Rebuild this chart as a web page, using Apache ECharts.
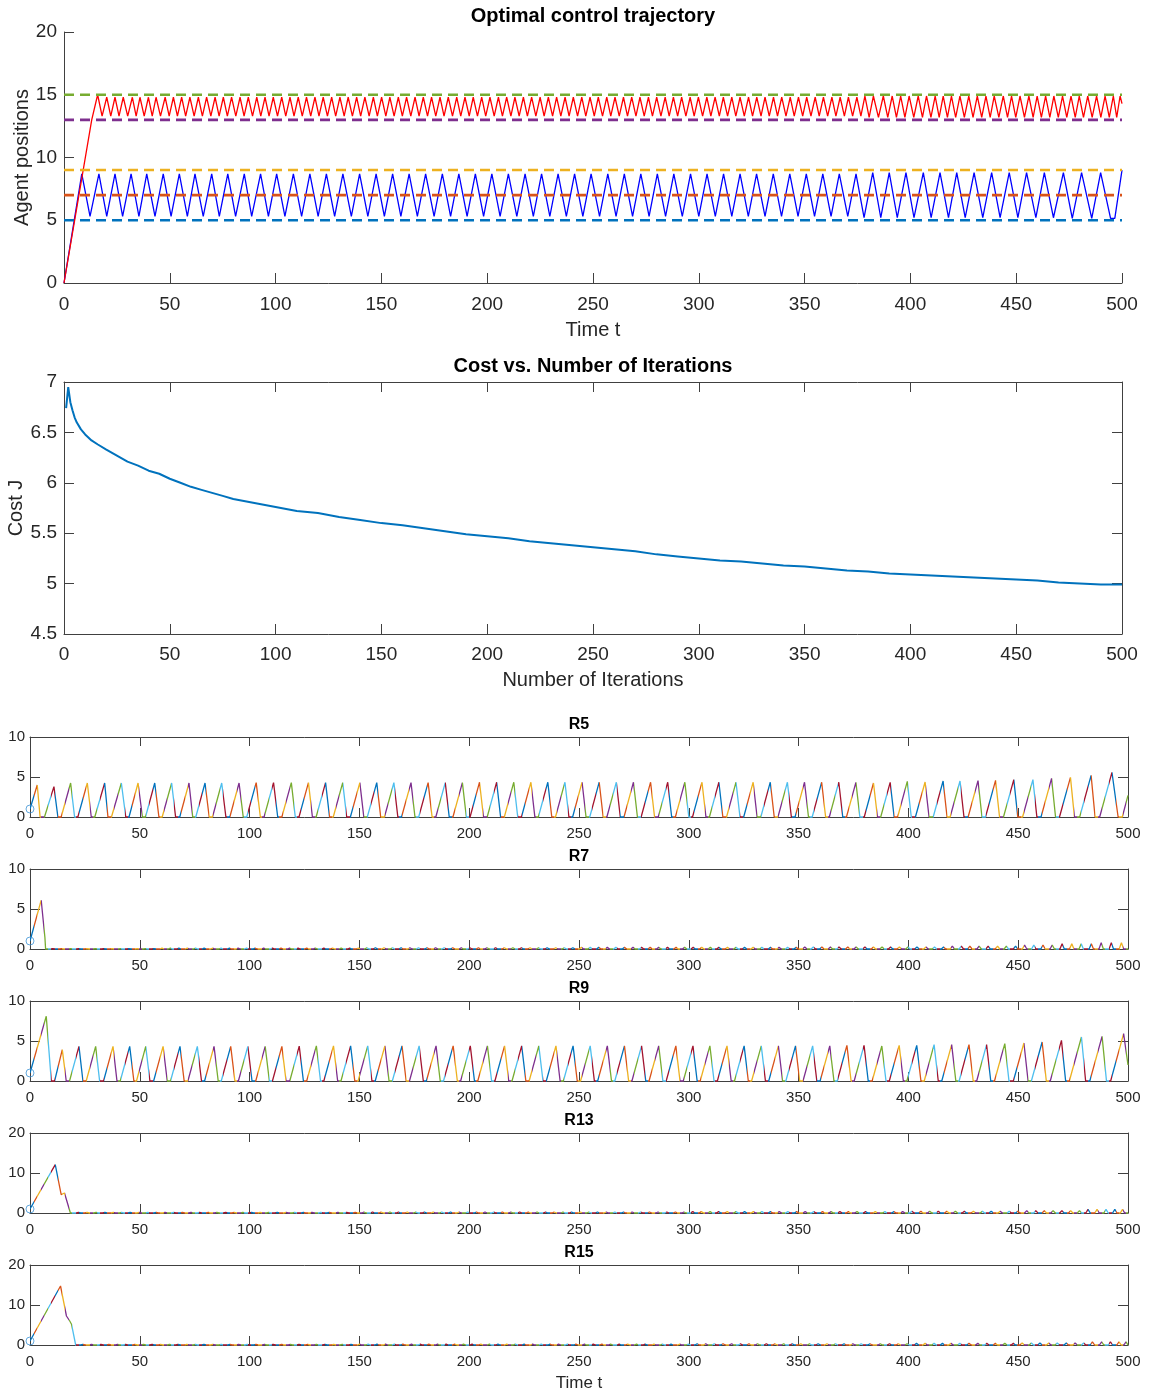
<!DOCTYPE html>
<html>
<head>
<meta charset="utf-8">
<script src="https://cdn.jsdelivr.net/npm/echarts@6/dist/echarts.min.js"></script>
<style>
html,body{margin:0;padding:0;background:#fff;}
#chart{width:1151px;height:1393px;}
</style>
</head>
<body>
<div id="chart"></div>
<script>
// ---------- tick labels ----------
const timeTicks = [0, 50, 100, 150, 200, 250, 300, 350, 400, 450, 500];
const positionTicks = [0, 5, 10, 15, 20];
const costTicks = [4.5, 5, 5.5, 6, 6.5, 7];
const regionTicksLow = [0, 5, 10];
const regionTicksHigh = [0, 10, 20];
const regionNames = ['R5', 'R7', 'R9', 'R13', 'R15'];

// ---------- target region levels (dashed) ----------
const targetLevels = [5, 7, 9, 13, 15];

// ---------- agent trajectories: turning points [t, position] ----------
const redAgentPath = [
  [0,0],[13.1,13.0],[15.9,15.0],
  [18.0,13.3],[20.2,14.8],[22.1,13.3],[24.1,14.8],[26.0,13.3],[28.0,14.8],[30.1,13.3],[32.3,14.8],[34.1,13.3],[35.9,14.8],
  [37.9,13.3],[39.9,14.8],[41.7,13.3],[43.5,14.8],[45.6,13.3],[47.8,14.8],[49.7,13.3],[51.7,14.8],[53.6,13.3],[55.6,14.8],
  [57.5,13.3],[59.5,14.8],[61.5,13.3],[63.5,14.8],[65.4,13.3],[67.4,14.8],[69.4,13.3],[71.4,14.8],[73.3,13.3],[75.3,14.8],
  [77.2,13.3],[79.2,14.8],[81.2,13.3],[83.2,14.8],[85.1,13.3],[87.1,14.8],[89.1,13.3],[91.1,14.8],[93.0,13.3],[95.0,14.8],
  [96.9,13.3],[98.9,14.8],[100.9,13.3],[102.9,14.8],[104.8,13.3],[106.8,14.8],[108.7,13.3],[110.7,14.8],[112.6,13.3],
  [114.6,14.8],[116.6,13.3],[118.6,14.8],[120.5,13.3],[122.5,14.8],[124.5,13.3],[126.5,14.8],[128.4,13.3],[130.4,14.8],
  [132.4,13.3],[134.3,14.8],[136.3,13.3],[138.3,14.8],[140.2,13.3],[142.2,14.8],[144.2,13.3],[146.2,14.8],[148.1,13.3],
  [150.1,14.8],[152.1,13.3],[154.0,14.8],[156.0,13.3],[158.0,14.8],[159.9,13.3],[161.9,14.8],[163.9,13.3],[165.9,14.8],
  [167.8,13.3],[169.8,14.8],[171.8,13.3],[173.7,14.8],[175.7,13.3],[177.7,14.8],[179.6,13.3],[181.6,14.8],[183.6,13.3],
  [185.6,14.8],[187.5,13.3],[189.5,14.8],[191.5,13.3],[193.4,14.8],[195.4,13.3],[197.4,14.8],[199.3,13.3],[201.3,14.8],
  [203.3,13.3],[205.3,14.8],[207.2,13.3],[209.2,14.8],[211.2,13.3],[213.1,14.8],[215.1,13.3],[217.1,14.8],[219.0,13.3],
  [221.0,14.8],[223.0,13.3],[225.0,14.8],[226.9,13.3],[228.9,14.8],[230.9,13.3],[232.8,14.8],[234.8,13.3],[236.8,14.8],
  [238.7,13.3],[240.7,14.8],[242.7,13.3],[244.7,14.8],[246.6,13.3],[248.6,14.8],[250.6,13.3],[252.5,14.8],[254.5,13.3],
  [256.5,14.8],[258.4,13.3],[260.4,14.8],[262.4,13.3],[264.4,14.8],[266.3,13.3],[268.3,14.8],[270.3,13.3],[272.2,14.8],
  [274.2,13.3],[276.2,14.8],[278.1,13.3],[280.1,14.8],[282.1,13.3],[284.1,14.8],[286.0,13.3],[288.0,14.8],[290.0,13.3],
  [291.9,14.8],[293.9,13.3],[295.9,14.8],[297.8,13.3],[299.8,14.8],[301.8,13.3],[303.8,14.8],[305.7,13.3],[307.7,14.8],
  [309.7,13.3],[311.6,14.8],[313.6,13.3],[315.6,14.8],[317.5,13.3],[319.5,14.8],[321.5,13.3],[323.5,14.8],[325.4,13.3],
  [327.4,14.8],[329.4,13.3],[331.3,14.8],[333.3,13.3],[335.3,14.8],[337.2,13.3],[339.2,14.8],[341.2,13.3],[343.2,14.8],
  [345.1,13.3],[347.1,14.8],[349.1,13.3],[351.0,14.8],[353.0,13.3],[355.0,14.8],[356.9,13.3],[358.9,14.8],[360.9,13.3],
  [362.9,14.8],[364.8,13.3],[366.8,14.8],[368.8,13.3],[370.7,14.8],[372.7,13.3],[374.7,14.8],[376.6,13.3],
  [378.5,14.9],[380.5,13.2],[382.5,14.9],[384.9,13.2],[387.2,14.9],[389.3,13.2],[391.4,14.9],[393.4,13.2],[395.4,14.9],
  [397.4,13.2],[399.4,14.9],[401.6,13.2],[403.7,14.9],[405.7,13.2],[407.6,14.9],[409.7,13.2],[411.7,14.9],[413.6,13.2],
  [415.5,14.9],[417.5,13.2],[419.4,14.9],[421.4,13.2],[423.4,14.9],[425.5,13.2],[427.6,14.9],[429.6,13.2],[431.6,14.9],
  [433.7,13.2],[435.7,14.9],[437.7,13.2],[439.6,14.9],[441.8,13.2],[443.9,14.9],[445.9,13.2],[447.8,14.9],[449.8,13.2],
  [451.8,14.9],[453.9,13.2],[456.0,14.9],[458.0,13.2],[459.9,14.9],[461.9,13.2],[463.9,14.9],[465.9,13.2],[467.8,14.9],
  [469.9,13.2],[471.9,14.9],[473.9,13.2],[475.9,14.9],[477.9,13.2],[479.8,14.9],[481.8,13.2],[483.8,14.9],[485.9,13.2],
  [488.0,14.9],[490.0,13.2],[492.0,14.9],[494.0,13.2],[495.9,14.9],[497.5,13.2],[499.1,14.9],[500,14.3]
];

const blueAgentPath = [
  [0,0],[8.4,8.7],[12.3,5.3],[16.5,8.7],[20.2,5.3],[24.1,8.7],[27.7,5.3],[31.7,8.7],[35.4,5.3],[39.1,8.7],[43.0,5.3],
  [46.9,8.7],[50.6,5.3],[54.5,8.7],[58.3,5.3],[61.9,8.7],[65.8,5.3],[69.8,8.7],[73.4,5.3],[77.4,8.7],[81.1,5.3],[85.2,8.7],
  [88.7,5.3],[92.9,8.7],[96.6,5.3],[100.5,8.7],[104.4,5.3],[108.4,8.7],[112.3,5.3],[116.2,8.7],[120.1,5.3],[124.0,8.7],
  [127.9,5.3],[131.8,8.7],[135.8,5.3],[139.7,8.7],[143.6,5.3],[147.5,8.7],[151.4,5.3],[155.3,8.7],[159.2,5.3],[163.1,8.7],
  [167.0,5.3],[170.9,8.7],[174.9,5.3],[178.8,8.7],[182.7,5.3],[186.6,8.7],[190.5,5.3],[194.4,8.7],[198.3,5.3],[202.2,8.7],
  [206.1,5.3],[210.0,8.7],[214.0,5.3],[217.9,8.7],[221.8,5.3],[225.7,8.7],[229.6,5.3],[233.5,8.7],[237.4,5.3],[241.3,8.7],
  [245.2,5.3],[249.1,8.7],[253.1,5.3],[257.0,8.7],[260.9,5.3],[264.8,8.7],[268.7,5.3],[272.6,8.7],[276.5,5.3],[280.4,8.7],
  [284.3,5.3],[288.2,8.7],[292.2,5.3],[296.1,8.7],[300.0,5.3],[303.9,8.7],[307.8,5.3],[311.7,8.7],[315.6,5.3],[319.5,8.7],
  [323.4,5.3],[327.3,8.7],[331.3,5.3],[335.2,8.7],[339.1,5.3],[343.0,8.7],[346.9,5.3],[350.8,8.7],[354.7,5.3],[358.6,8.7],
  [362.5,5.3],[366.4,8.7],[370.4,5.3],[374.3,8.7],[378.1,5.2],[382.2,8.8],[386.0,5.2],[390.0,8.8],[393.8,5.2],[397.9,8.8],
  [401.7,5.2],[406.1,8.8],[409.8,5.2],[414.0,8.8],[418.0,5.2],[421.9,8.8],[425.9,5.2],[430.1,8.8],[434.2,5.2],[438.4,8.8],
  [442.4,5.2],[446.7,8.8],[450.8,5.2],[454.9,8.8],[459.3,5.2],[463.3,8.8],[467.6,5.2],[472.3,8.8],[476.5,5.15],[480.9,8.8],
  [485.7,5.15],[489.9,8.8],[494.6,5.15],[496.6,5.15],[500,9.0]
];

// ---------- cost per iteration ----------
const costIter = [1, 2, 3, 4, 5, 6, 8, 10, 13, 16, 20, 25, 30, 35, 40, 45, 50, 55, 60, 65, 70, 75, 80, 85, 90, 95,
  100, 110, 120, 130, 140, 150, 160, 170, 180, 190, 200, 210, 220, 230, 240, 250, 260, 270, 280, 290, 300,
  310, 320, 330, 340, 350, 360, 370, 380, 390, 400, 410, 420, 430, 440, 450, 460, 470, 480, 490, 500];
const costValue = [6.74, 6.95, 6.80, 6.72, 6.65, 6.60, 6.53, 6.48, 6.42, 6.38, 6.33, 6.27, 6.21, 6.17, 6.12, 6.09,
  6.04, 6.00, 5.96, 5.93, 5.90, 5.87, 5.84, 5.82, 5.80, 5.78, 5.76, 5.72, 5.70, 5.66, 5.63, 5.60, 5.58, 5.55,
  5.52, 5.49, 5.47, 5.45, 5.42, 5.40, 5.38, 5.36, 5.34, 5.32, 5.29, 5.27, 5.25, 5.23, 5.22, 5.20, 5.18, 5.17,
  5.15, 5.13, 5.12, 5.10, 5.09, 5.08, 5.07, 5.06, 5.05, 5.04, 5.03, 5.01, 5.00, 4.99, 4.99];

// ---------- region idle levels ----------
// cycles: [rise start (at 0), peak time, peak value, fall end (back at 0)]
const r5Start = [0, 1.0];
const r5Cycles = [
  [0,3.3,4.0,4.6],[6.6,10.9,3.8,12.7],[14.2,18.5,4.25,20.3],[21.8,26.1,4.25,27.9],[29.5,34.0,4.25,35.5],
  [37.1,41.6,4.25,43.6],[45.1,49.2,4.25,51.2],[52.6,56.8,4.25,58.7],[60.2,64.5,4.25,66.3],[68.2,72.4,4.25,74.1],
  [75.5,79.7,4.25,81.6],[83.1,87.3,4.25,89.2],[91.0,95.2,4.25,97.1],[98.7,103.0,4.3,104.9],[106.6,110.9,4.3,112.8],
  [114.7,119.0,4.3,120.8],[122.5,126.8,4.3,128.6],[130.3,134.6,4.3,136.4],[138.1,142.4,4.3,144.2],[145.9,150.2,4.3,152.0],
  [153.6,157.9,4.3,159.7],[161.4,165.7,4.3,167.5],[169.2,173.5,4.3,175.3],[177.0,181.3,4.3,183.1],[184.8,189.1,4.3,190.9],
  [192.6,196.9,4.3,198.7],[200.4,204.7,4.35,206.5],[208.2,212.5,4.35,214.3],[216.0,220.3,4.35,222.1],[223.8,228.1,4.35,229.9],
  [231.5,235.8,4.35,237.6],[239.3,243.6,4.35,245.4],[247.1,251.4,4.35,253.2],[254.9,259.2,4.35,261.0],[262.7,267.0,4.35,268.8],
  [270.5,274.8,4.35,276.6],[278.3,282.6,4.35,284.4],[286.1,290.4,4.35,292.2],[293.9,298.2,4.35,300.0],[301.7,306.0,4.35,307.8],
  [309.4,313.7,4.35,315.5],[317.2,321.5,4.35,323.3],[325.0,329.3,4.35,331.1],[332.8,337.1,4.35,338.9],[340.6,344.9,4.35,346.7],
  [348.4,352.7,4.35,354.5],[356.2,360.5,4.35,362.3],[364.0,368.3,4.35,370.1],[371.8,376.1,4.33,377.9],[379.9,384.1,4.25,385.9],
  [387.4,391.7,4.33,393.5],[395.1,399.5,4.46,401.3],[403.2,407.6,4.38,409.4],[411.3,415.8,4.5,417.6],[419.0,423.5,4.5,425.3],
  [427.2,431.7,4.54,433.5],[435.1,439.7,4.58,441.5],[443.3,448.0,4.67,449.8],[452.0,456.7,4.67,458.5],[460.4,465.2,4.83,467.0],
  [468.8,473.8,4.96,475.6],[478.0,483.2,5.21,485.0],[487.1,492.7,5.58,495.5]
];
const r5Tail = [[497.4,0],[500,2.7]];

const r9Start = [0, 1.0];
const r9Cycles = [
  [0,7.4,8.1,9.7],[11.2,14.7,3.92,16.5],[18.0,22.3,4.33,24.1],[25.6,29.9,4.33,31.7],[33.5,37.8,4.33,39.6],
  [41.1,45.4,4.33,47.3],[48.5,52.7,4.33,54.6],[56.3,60.6,4.33,62.5],[64.0,68.3,4.33,70.2],[71.9,76.2,4.33,78.1],
  [79.5,83.8,4.33,85.7],[87.1,91.4,4.33,93.3],[94.9,99.2,4.33,101.1],[102.8,107.1,4.33,109.0],[110.4,114.7,4.33,116.6],
  [118.3,122.6,4.35,124.5],[126.0,130.4,4.4,132.3],[133.8,138.2,4.4,140.1],[141.6,146.0,4.4,147.9],[149.4,153.8,4.4,155.7],
  [157.2,161.6,4.4,163.5],[165.0,169.4,4.4,171.3],[172.8,177.2,4.4,179.1],[180.5,184.9,4.4,186.8],[188.3,192.7,4.4,194.6],
  [196.1,200.5,4.4,202.4],[203.9,208.3,4.4,210.2],[211.7,216.1,4.4,218.0],[219.5,223.9,4.4,225.8],[227.3,231.7,4.4,233.6],
  [235.1,239.5,4.4,241.4],[242.9,247.3,4.4,249.2],[250.7,255.1,4.4,257.0],[258.5,262.9,4.4,264.8],[266.3,270.7,4.4,272.6],
  [274.1,278.5,4.4,280.4],[281.9,286.3,4.4,288.2],[289.7,294.1,4.4,296.0],[297.5,301.9,4.4,303.8],[305.2,309.6,4.4,311.5],
  [313.0,317.4,4.4,319.3],[320.8,325.2,4.4,327.1],[328.6,333.0,4.4,334.9],[336.4,340.8,4.4,342.7],[344.2,348.6,4.4,350.5],
  [352.0,356.4,4.4,358.3],[359.8,364.2,4.4,366.1],[367.6,372.0,4.45,373.9],[375.3,379.8,4.46,381.7],[383.5,387.9,4.38,389.8],
  [391.3,395.8,4.46,397.7],[399.3,403.8,4.46,405.7],[407.2,411.7,4.54,413.6],[415.2,419.7,4.54,421.6],[423.1,427.6,4.54,429.5],
  [431.1,435.6,4.54,437.5],[439.2,443.9,4.67,445.8],[447.8,452.6,4.75,454.5],[456.0,460.9,4.88,462.8],[464.6,469.7,5.08,471.6],
  [473.3,478.8,5.5,480.7],[482.6,488.2,5.58,490.2],[492.1,498.0,5.92,null]
];
const r9Tail = [[500,2.0]];

// initial transients, then small spikes at each pass
const r7Head = [[0,1.0],[5.1,6.1],[6.8,1.4],[7.1,0]];
const r7SpikeT = [10.4,14.4,18.4,22.2,25.9,29.7,33.6,37.3,41.1,45.0,48.8,52.6,56.4,60.1,63.9,67.8,71.6,75.4,79.3,83.2,
  87.0,90.8,94.8,98.6,102.5,106.4,110.4,114.3,118.2,122.1,126.0,129.9,133.8,137.8,141.7,145.6,149.5,153.4,157.3,161.2,
  165.1,169.0,173.0,176.9,180.8,184.7,188.6,192.5,196.4,200.3,204.2,208.1,212.0,216.0,219.9,223.8,227.7,231.6,235.5,
  239.4,243.3,247.2,251.1,255.1,259.0,262.9,266.8,270.7,274.6,278.5,282.4,286.3,290.3,294.2,298.1,302.0,305.9,309.8,
  313.7,317.6,321.5,325.4,329.3,333.3,337.2,341.1,345.0,348.9,352.8,356.7,360.6,364.5,368.4,372.4,376.2,380.2,384.1,
  388.0,391.9,395.9,399.8,403.9,408.0,411.9,416.0,420.0,424.1,428.0,432.2,436.3,440.6,444.6,448.8,452.9,457.1,461.3,
  465.5,470.0,474.4,478.7,483.3,487.8,492.4,497.0];
const r7SpikeLevels = [[0,0.05],[60,0.1],[150,0.15],[250,0.2],[350,0.25],[420,0.35],[450,0.5],[470,0.65],[485,0.8]];

const r13Head = [[0,1.0],[11.5,12.1],[14.2,4.6],[15.7,5.0],[18.4,0]];
const r13SpikeT = [22.1,26.0,30.1,34.1,37.9,41.7,45.6,49.7,53.6,57.5,61.5,65.4,69.4,73.3,77.2,81.2,85.1,89.1,93.0,96.9,
  100.9,104.8,108.7,112.6,116.6,120.5,124.5,128.4,132.4,136.3,140.2,144.2,148.1,152.1,156.0,159.9,163.9,167.8,171.8,
  175.7,179.6,183.6,187.5,191.5,195.4,199.3,203.3,207.2,211.2,215.1,219.0,223.0,226.9,230.9,234.8,238.7,242.7,246.6,
  250.6,254.5,258.4,262.4,266.3,270.3,274.2,278.1,282.1,286.0,290.0,293.9,297.8,301.8,305.7,309.7,313.6,317.5,321.5,
  325.4,329.4,333.3,337.2,341.2,345.1,349.1,353.0,356.9,360.9,364.8,368.8,372.7,376.6,380.5,384.9,389.3,393.4,397.4,
  401.6,405.7,409.7,413.6,417.5,421.4,425.5,429.6,433.7,437.7,441.8,445.9,449.8,453.9,458.0,461.9,465.9,469.9,473.9,
  477.9,481.8,485.9,490.0,494.0,497.5];
const r13SpikeLevels = [[0,0.15],[150,0.25],[300,0.35],[400,0.45],[450,0.6],[480,0.9]];

const r15Head = [[0,1.0],[13.9,14.75],[16.6,7.25],[18.1,6.0],[18.9,5.2],[20.8,0]];
const r15SpikeT = [24.1,28.0,32.3,35.9,39.9,43.5,47.8,51.7,55.6,59.5,63.5,67.4,71.4,75.3,79.2,83.2,87.1,91.1,95.0,98.9,
  102.9,106.8,110.7,114.6,118.6,122.5,126.5,130.4,134.3,138.3,142.2,146.2,150.1,154.0,158.0,161.9,165.9,169.8,173.7,
  177.7,181.6,185.6,189.5,193.4,197.4,201.3,205.3,209.2,213.1,217.1,221.0,225.0,228.9,232.8,236.8,240.7,244.7,248.6,
  252.5,256.5,260.4,264.4,268.3,272.2,276.2,280.1,284.1,288.0,291.9,295.9,299.8,303.8,307.7,311.6,315.6,319.5,323.5,
  327.4,331.3,335.3,339.2,343.2,347.1,351.0,355.0,358.9,362.9,366.8,370.7,374.7,378.5,382.5,387.2,391.4,395.4,399.4,
  403.7,407.6,411.7,415.5,419.4,423.4,427.6,431.6,435.7,439.6,443.9,447.8,451.8,456.0,459.9,463.9,467.8,471.9,475.9,
  479.8,483.8,488.0,492.0,495.9,499.1];
const r15SpikeLevels = [[0,0.15],[150,0.2],[300,0.3],[400,0.4],[450,0.5],[480,0.8]];

// ---------- styling ----------
const FONT = "'Liberation Sans', Arial, Helvetica, sans-serif";
const AXIS_COLOR = '#404040';
const TEXT_COLOR = '#262626';
const targetColors = ['#0072BD', '#D95319', '#EDB120', '#7E2F8E', '#77AC30'];
const segmentColors = ['#0072BD', '#D95319', '#EDB120', '#7E2F8E', '#77AC30', '#4DBEEE', '#A2142F'];
const SEGMENT_SPAN = 1.6;   // time span drawn in one colour before the next colour
const SPIKE_HALF_WIDTH = 1; // spikes last one step each side

function cyclePath(start, cycles, tail) {
  const pts = [start];
  cycles.forEach(function (c) {
    if (c[0] > pts[pts.length - 1][0]) pts.push([c[0], 0]);
    pts.push([c[1], c[2]]);
    if (c[3] != null) pts.push([c[3], 0]);
  });
  return pts.concat(tail);
}
function levelAt(levels, t) {
  let h = levels[0][1];
  levels.forEach(function (l) { if (t >= l[0]) h = l[1]; });
  return h;
}
function spikePath(head, times, levels) {
  const tMax = timeTicks[timeTicks.length - 1];
  const pts = head.slice();
  times.forEach(function (t) {
    pts.push([t - SPIKE_HALF_WIDTH, 0], [t, levelAt(levels, t)], [Math.min(t + SPIKE_HALF_WIDTH, tMax), 0]);
  });
  if (pts[pts.length - 1][0] < tMax) pts.push([tMax, 0]);
  return pts;
}

const regionPaths = [
  cyclePath(r5Start, r5Cycles, r5Tail),
  spikePath(r7Head, r7SpikeT, r7SpikeLevels),
  cyclePath(r9Start, r9Cycles, r9Tail),
  spikePath(r13Head, r13SpikeT, r13SpikeLevels),
  spikePath(r15Head, r15SpikeT, r15SpikeLevels)
];
const regionTicks = [regionTicksLow, regionTicksLow, regionTicksLow, regionTicksHigh, regionTicksHigh];

// ---------- layout ----------
const grids = [
  { left: 64, top: 32, width: 1058, height: 251, outerBoundsMode: 'none', containLabel: false },
  { left: 64, top: 382, width: 1058, height: 252, outerBoundsMode: 'none', containLabel: false }
];
const regionTops = [737, 869, 1001, 1133, 1265];
regionTops.forEach(function (t) {
  grids.push({ left: 30, top: t, width: 1098, height: 80, outerBoundsMode: 'none', containLabel: false });
});

function makeAxis(ticks, gridIndex, o) {
  return {
    type: 'value',
    gridIndex: gridIndex,
    position: o.position,
    min: ticks[0],
    max: ticks[ticks.length - 1],
    interval: ticks[1] - ticks[0],
    name: o.name || '',
    nameLocation: 'middle',
    nameGap: o.nameGap || 0,
    nameMoveOverlap: false,
    nameTextStyle: { color: TEXT_COLOR, fontFamily: FONT, fontSize: o.nameSize || 20 },
    axisLine: { show: true, onZero: false, lineStyle: { color: AXIS_COLOR, width: 1 } },
    axisTick: { show: true, inside: true, length: o.tickLen || 10, lineStyle: { color: AXIS_COLOR, width: 1 } },
    axisLabel: { show: o.labels !== false, color: TEXT_COLOR, fontFamily: FONT, fontSize: o.fontSize || 19, margin: o.margin || 8 },
    splitLine: { show: false }
  };
}

const xAxes = [], yAxes = [];
// trajectory panel (open box)
xAxes.push(makeAxis(timeTicks, 0, { position: 'bottom', name: 'Time t', nameGap: 37, margin: 12 }));
yAxes.push(makeAxis(positionTicks, 0, { position: 'left', name: 'Agent positions', nameGap: 32, margin: 7 }));
// cost panel
xAxes.push(makeAxis(timeTicks, 1, { position: 'bottom', name: 'Number of Iterations', nameGap: 36, margin: 11 }));
yAxes.push(makeAxis(costTicks, 1, { position: 'left', name: 'Cost J', nameGap: 38, margin: 7 }));
// region panels
regionNames.forEach(function (n, i) {
  const last = i === regionNames.length - 1;
  xAxes.push(makeAxis(timeTicks, i + 2, {
    position: 'bottom', fontSize: 15, margin: 9, tickLen: 9,
    name: last ? 'Time t' : '', nameGap: 30, nameSize: 17
  }));
  yAxes.push(makeAxis(regionTicks[i], i + 2, { position: 'left', fontSize: 15, margin: 5, tickLen: 10 }));
});
// closing box edges for the boxed panels
for (let g = 1; g < grids.length; g++) {
  const ticksY = g === 1 ? costTicks : regionTicks[g - 2];
  xAxes.push(makeAxis(timeTicks, g, { position: 'top', labels: false, tickLen: g === 1 ? 10 : 9 }));
  yAxes.push(makeAxis(ticksY, g, { position: 'right', labels: false, tickLen: 10 }));
}

// ---------- series ----------
const series = [];
series.push({
  type: 'line', xAxisIndex: 0, yAxisIndex: 0, data: blueAgentPath, showSymbol: false, symbol: 'none',
  lineStyle: { color: '#0000FF', width: 1.3 }, animation: false, z: 2
});
series.push({
  type: 'line', xAxisIndex: 0, yAxisIndex: 0, data: redAgentPath, showSymbol: false, symbol: 'none',
  lineStyle: { color: '#FF0000', width: 1.3 }, animation: false, z: 3
});
targetLevels.forEach(function (lvl, i) {
  series.push({
    type: 'line', xAxisIndex: 0, yAxisIndex: 0, symbol: 'none', showSymbol: false,
    data: [[timeTicks[0], lvl], [timeTicks[timeTicks.length - 1], lvl]],
    lineStyle: { color: targetColors[i], width: 2.6, type: [10, 6] }, z: 4
  });
});
series.push({
  type: 'line', xAxisIndex: 1, yAxisIndex: 1, symbol: 'none', showSymbol: false,
  data: costIter.map(function (it, i) { return [it, costValue[i]]; }),
  lineStyle: { color: '#0072BD', width: 2 }
});
const regionSeriesIdx = [];
regionPaths.forEach(function (p, i) {
  regionSeriesIdx.push(series.length);
  series.push({
    type: 'line', xAxisIndex: i + 2, yAxisIndex: i + 2, symbol: 'none', showSymbol: false,
    data: p, clip: false, lineStyle: { width: 1.3 }
  });
});
regionPaths.forEach(function (p, i) {
  series.push({
    type: 'scatter', xAxisIndex: i + 2, yAxisIndex: i + 2, data: [p[0]], symbol: 'circle', symbolSize: 8,
    itemStyle: { color: 'rgba(0,0,0,0)', borderColor: '#3F93D6', borderWidth: 1 }, clip: false, z: 5
  });
});

const pieces = [];
const tEnd = timeTicks[timeTicks.length - 1];
for (let k = 0; k * SEGMENT_SPAN < tEnd + SEGMENT_SPAN; k++) {
  pieces.push({ gte: k * SEGMENT_SPAN, lt: (k + 1) * SEGMENT_SPAN, color: segmentColors[k % segmentColors.length] });
}

// ---------- titles ----------
const titles = [
  { text: 'Optimal control trajectory', left: 593, top: 6, size: 20 },
  { text: 'Cost vs. Number of Iterations', left: 593, top: 356, size: 20 }
];
regionNames.forEach(function (n, i) { titles.push({ text: n, left: 579, top: regionTops[i] - 20, size: 16 }); });

const option = {
  backgroundColor: '#ffffff',
  animation: false,
  title: titles.map(function (t) {
    return {
      text: t.text, left: t.left, top: t.top, textAlign: 'center', padding: 0,
      textStyle: { fontFamily: FONT, fontSize: t.size, fontWeight: 'bold', color: '#000000' }
    };
  }),
  grid: grids,
  xAxis: xAxes,
  yAxis: yAxes,
  visualMap: [{
    type: 'piecewise', show: false, dimension: 0, seriesIndex: regionSeriesIdx, pieces: pieces
  }],
  series: series
};

const chart = echarts.init(document.getElementById('chart'), null, { renderer: 'canvas' });
chart.setOption(option);
</script>
</body>
</html>
